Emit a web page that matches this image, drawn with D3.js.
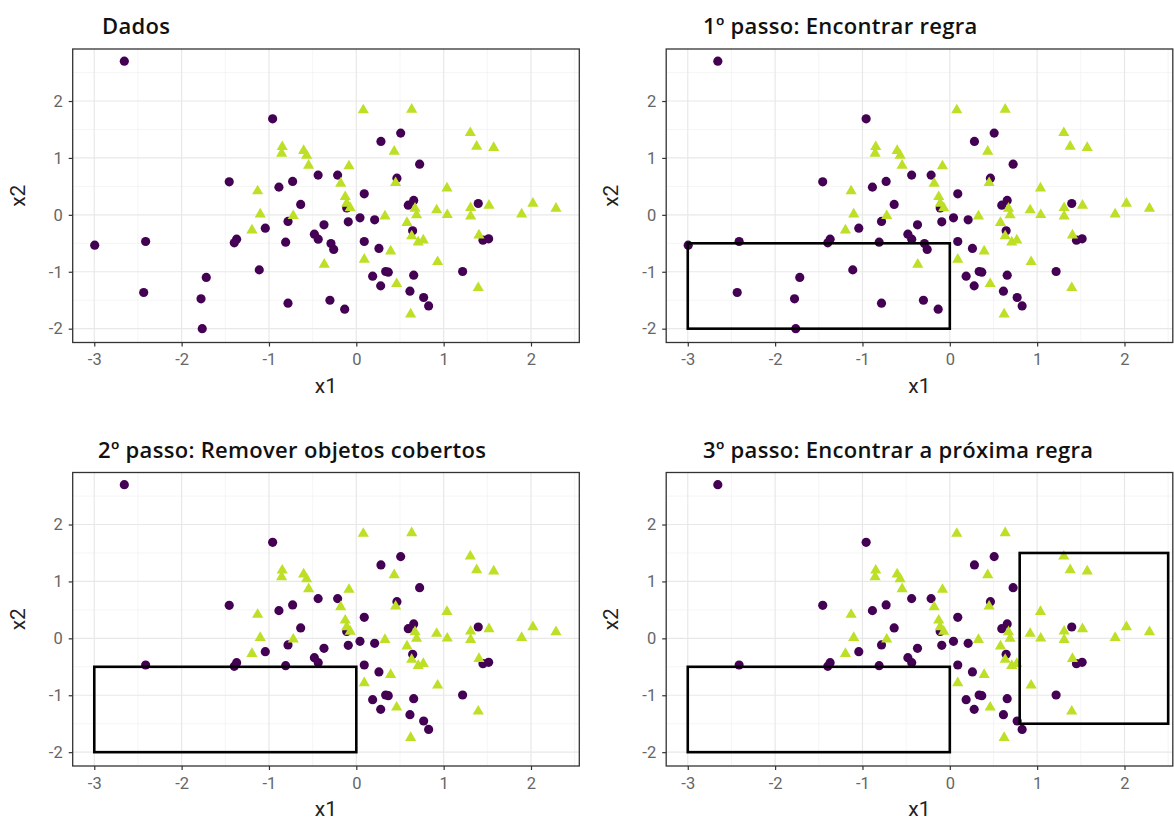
<!DOCTYPE html>
<meta charset="utf-8">
<html lang="pt">
<head>
<title>Cobertura sequencial</title>
<style>
body { margin: 0; background: #fff; }
.grid-major { stroke: #e8e8e8; stroke-width: 1.2; }
.grid-minor { stroke: #f0f0f0; stroke-width: 0.7; }
.axis path { display: none; }
.axis line { stroke: #333; stroke-width: 1.2; }
.axis text { fill: #666; font: 16.5px Roboto, sans-serif; }
.axis-title { fill: #222; font: 21px Roboto, sans-serif; }
.panel-title { fill: #111; font: 600 22px "Open Sans", sans-serif; letter-spacing: 0.3px; }
</style>
</head>
<body>
<script src="https://cdn.jsdelivr.net/npm/d3@7"></script>
<script>

// classe 1 (círculos roxos)
var circX = [-2.656, -0.958, -2.995, -2.412, -2.434, -1.718, -1.778, -1.764, -1.455, -1.37,
             -1.397, -1.111, -1.042, -0.886, -0.729, -0.782, -0.809, -0.782, -0.637, -0.437,
             -0.48, -0.436, -0.214, 0.508, 0.282, 0.725, 0.465, 0.091, -0.11, -0.37,
             -0.29, -0.259, -0.092, 0.042, 0.21, 0.091, 0.259, 0.187, 0.336, 0.366,
             0.279, 0.657, 0.614, 0.771, 0.828, -0.302, -0.133, 0.595, 0.657, 0.645,
             1.217, 1.396, 1.45, 1.515];
var circY = [2.70, 1.687, -0.533, -0.468, -1.364, -1.10, -1.476, -2.0, 0.58, -0.427,
             -0.492, -0.967, -0.234, 0.487, 0.587, -0.116, -0.48, -1.552, 0.183, 0.698,
             -0.34, -0.427, 0.698, 1.436, 1.29, 0.891, 0.645, 0.369, 0.12, -0.176,
             -0.503, -0.608, -0.123, -0.053, -0.088, -0.468, -0.59, -1.077, -0.995, -1.007,
             -1.248, -1.06, -1.341, -1.452, -1.6, -1.5, -1.657, 0.17, 0.253, -0.28,
             -0.995, 0.2, -0.445, -0.422];

// classe 2 (triângulos verdes)
var triX = [-1.13, -1.1, -1.195, -0.848, -0.855, -0.603, -0.569, -0.546, -0.722, -0.084,
            -0.179, 0.08, 0.634, 0.434, 0.45, 1.038, 1.305, 1.378, 1.573, -0.127,
            -0.11, -0.07, -0.367, 0.328, 0.091, 0.393, 0.462, 0.622, 0.672, 0.69,
            0.58, 0.634, 0.709, 0.767, 0.931, 0.92, 1.041, 1.396, 1.309, 1.309,
            1.519, 1.404, 1.893, 2.022, 2.286];
var triY = [0.417, 0.012, -0.27, 1.195, 1.079, 1.125, 1.044, 0.868, -0.018, 0.856,
            0.552, 1.84, 1.852, 1.114, 0.562, 0.469, 1.44, 1.2, 1.178, 0.316,
            0.2, 0.12, -0.872, -0.023, -0.784, -0.638, -1.213, -1.745, 0.112, -0.005,
            -0.14, -0.374, -0.48, -0.445, -0.826, 0.083, 0.0, -1.283, 0.123, -0.023,
            0.165, -0.357, 0.012, 0.2, 0.112];

// regras (x1min, x1max, x2min, x2max)
var rule1 = [-3, 0, -2, -0.5];
var rule2 = [0.8, 2.5, -1.5, 1.5];

var titles = ["Dados", "1º passo: Encontrar regra",
              "2º passo: Remover objetos cobertos", "3º passo: Encontrar a próxima regra"];
var xTicks = [-3, -2, -1, 0, 1, 2];
var yTicks = [-2, -1, 0, 1, 2];

var width = 1174, height = 827;
var pw = 506.6, ph = 293.5;

// painel: origem da área de plotagem, posição do título, regras mostradas, remover cobertos?
var panels = [
  {x: 72.7, y: 49, tx: 102, rules: [], drop: false},
  {x: 666.2, y: 49, tx: 703, rules: [rule1], drop: false},
  {x: 72.7, y: 472.5, tx: 98, rules: [rule1], drop: true},
  {x: 666.2, y: 472.5, tx: 703, rules: [rule1, rule2], drop: true}
];

var points = circX.map(function(x, i) { return {x1: x, x2: circY[i], cls: "a"}; })
  .concat(triX.map(function(x, i) { return {x1: x, x2: triY[i], cls: "b"}; }));

function inside(d, r) {
  return d.x1 >= r[0] && d.x1 <= r[1] && d.x2 >= r[2] && d.x2 <= r[3];
}

var x = d3.scaleLinear().domain([-3.247, 2.553]).range([0, pw]);
var y = d3.scaleLinear().domain([-2.243, 2.914]).range([ph, 0]);
var color = d3.scaleOrdinal().domain(["a", "b"]).range(["#440154", "#bddf26"]);
var tri = d3.symbol().type(d3.symbolTriangle).size(54);
var dot = d3.symbol().type(d3.symbolCircle).size(66);

var svg = d3.select("body").append("svg")
    .attr("width", width)
    .attr("height", height);

panels.forEach(function(p, k) {
  var g = svg.append("g").attr("transform", "translate(" + p.x + "," + p.y + ")");

  svg.append("text")
      .attr("class", "panel-title")
      .attr("x", p.tx)
      .attr("y", p.y - 15)
      .text(titles[k]);

  var xMinor = d3.range(-3.5, 3, 1).filter(function(v) { return v > x.domain()[0] && v < x.domain()[1]; });
  var yMinor = d3.range(-2.5, 3, 1).filter(function(v) { return v > y.domain()[0] && v < y.domain()[1]; });

  g.selectAll(".gxm").data(xMinor).enter().append("line")
      .attr("class", "grid-minor")
      .attr("x1", x).attr("x2", x).attr("y1", 0).attr("y2", ph);
  g.selectAll(".gym").data(yMinor).enter().append("line")
      .attr("class", "grid-minor")
      .attr("y1", y).attr("y2", y).attr("x1", 0).attr("x2", pw);
  g.selectAll(".gx").data(xTicks).enter().append("line")
      .attr("class", "grid-major")
      .attr("x1", x).attr("x2", x).attr("y1", 0).attr("y2", ph);
  g.selectAll(".gy").data(yTicks).enter().append("line")
      .attr("class", "grid-major")
      .attr("y1", y).attr("y2", y).attr("x1", 0).attr("x2", pw);

  var data = p.drop ? points.filter(function(d) { return !inside(d, rule1); }) : points;

  g.selectAll(".pt").data(data).enter().append("path")
      .attr("class", "pt")
      .attr("transform", function(d) { return "translate(" + x(d.x1) + "," + y(d.x2) + ")"; })
      .attr("d", function(d) { return d.cls === "a" ? dot() : tri(); })
      .attr("fill", function(d) { return color(d.cls); });

  g.selectAll(".rule").data(p.rules).enter().append("rect")
      .attr("x", function(r) { return x(r[0]); })
      .attr("y", function(r) { return y(r[3]); })
      .attr("width", function(r) { return x(r[1]) - x(r[0]); })
      .attr("height", function(r) { return y(r[2]) - y(r[3]); })
      .attr("fill", "none")
      .attr("stroke", "#000")
      .attr("stroke-width", 2.6);

  g.append("rect")
      .attr("width", pw).attr("height", ph)
      .attr("fill", "none").attr("stroke", "#333").attr("stroke-width", 1.3);

  g.append("g")
      .attr("class", "axis")
      .attr("transform", "translate(0," + ph + ")")
      .call(d3.axisBottom(x).tickValues(xTicks).tickSize(4).tickPadding(7).tickFormat(String));
  g.append("g")
      .attr("class", "axis")
      .call(d3.axisLeft(y).tickValues(yTicks).tickSize(4).tickPadding(6).tickFormat(String));

  g.append("text")
      .attr("class", "axis-title")
      .attr("x", pw / 2)
      .attr("y", ph + 50)
      .attr("text-anchor", "middle")
      .text("x1");
  g.append("text")
      .attr("class", "axis-title")
      .attr("transform", "translate(-48," + ph / 2 + ") rotate(-90)")
      .attr("text-anchor", "middle")
      .text("x2");
});

</script>
</body>
</html>
